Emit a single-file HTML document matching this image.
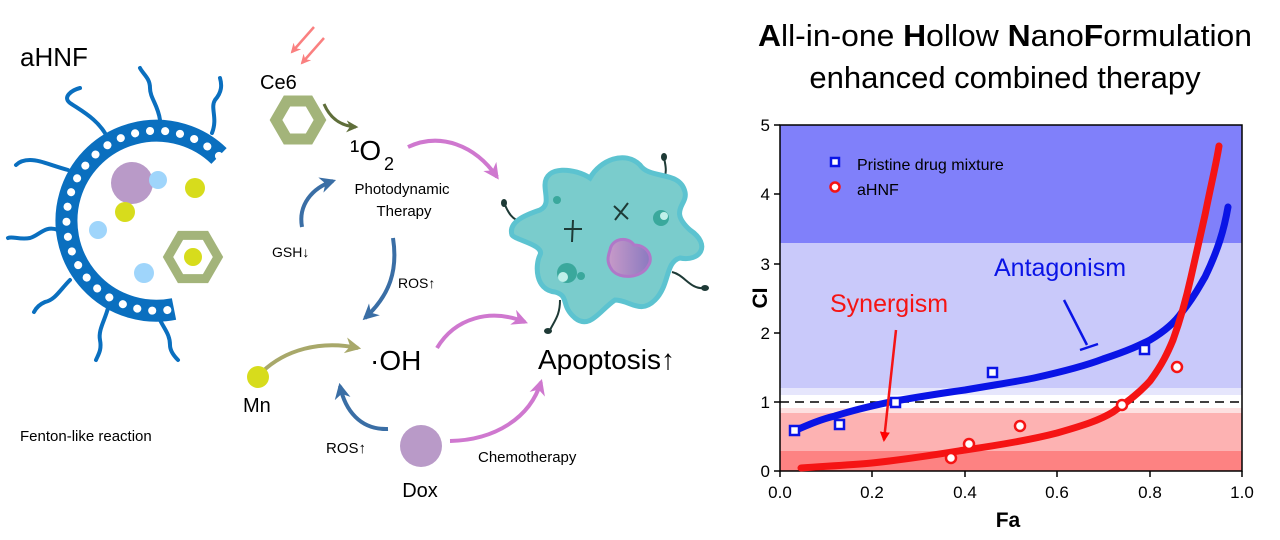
<!DOCTYPE html>
<html><head><meta charset="utf-8"><style>
html,body{margin:0;padding:0;background:#fff;}
svg{display:block;}
text{font-family:"Liberation Sans",Arial,sans-serif;}
</style></head><body>
<svg width="1280" height="540" viewBox="0 0 1280 540" xmlns="http://www.w3.org/2000/svg">
<defs>
<marker id="ab" viewBox="0 0 10 10" refX="8" refY="5" markerWidth="4" markerHeight="4" orient="auto"><path d="M0,0 L10,5 L0,10 L3,5z" fill="#3a6ea5"/></marker>
<marker id="am" viewBox="0 0 10 10" refX="8" refY="5" markerWidth="4" markerHeight="4" orient="auto"><path d="M0,0 L10,5 L0,10 L3,5z" fill="#cf78cf"/></marker>
<marker id="ao" viewBox="0 0 10 10" refX="8" refY="5" markerWidth="4" markerHeight="4" orient="auto"><path d="M0,0 L10,5 L0,10 L3,5z" fill="#a8a86a"/></marker>
<marker id="ag" viewBox="0 0 10 10" refX="8" refY="5" markerWidth="4" markerHeight="4" orient="auto"><path d="M0,0 L10,5 L0,10 L3,5z" fill="#5f6e3a"/></marker>
<marker id="ar" viewBox="0 0 10 10" refX="8" refY="5" markerWidth="4" markerHeight="4" orient="auto"><path d="M0,0 L10,5 L0,10 L3,5z" fill="#fa8080"/></marker>
<marker id="arr" viewBox="0 0 10 10" refX="8" refY="5" markerWidth="4" markerHeight="5" orient="auto"><path d="M0,0 L10,5 L0,10z" fill="#f00"/></marker>
<linearGradient id="nuc" x1="0" x2="1"><stop offset="0" stop-color="#c89ac8"/><stop offset="1" stop-color="#8a7ac0"/></linearGradient>
</defs>

<!-- aHNF nanoparticle -->
<text x="20" y="66" font-size="26">aHNF</text>
<g fill="none" stroke="#0a6fbf" stroke-width="4" stroke-linecap="round">
<path d="M108,139 C100,120 80,110 70,103 C62,97 72,90 80,88"/>
<path d="M160,120 C158,105 150,98 150,88 C150,78 143,74 140,68"/>
<path d="M212,133 C218,118 210,108 215,100 C222,92 222,85 220,78"/>
<path d="M68,170 C50,165 40,160 30,160 C22,160 18,163 16,165"/>
<path d="M58,230 C45,225 40,235 30,238 C20,240 12,236 8,238"/>
<path d="M70,280 C60,290 55,300 45,302 C38,305 35,310 34,312"/>
<path d="M108,308 C105,320 98,330 100,340 C102,350 98,355 96,360"/>
<path d="M160,320 C165,330 170,335 170,345 C170,352 176,358 178,360"/>
</g>
<path d="M219,156 A90,90 0 1 0 174,309" fill="none" stroke="#0a6fbf" stroke-width="22"/>
<path d="M219,156 A90,90 0 1 0 174,309" fill="none" stroke="#fff" stroke-width="8" stroke-dasharray="0.1 15" stroke-linecap="round"/>
<circle cx="132" cy="183" r="21" fill="#b99ac8"/>
<circle cx="158" cy="180" r="9" fill="#9fd5fb"/>
<circle cx="195" cy="188" r="10" fill="#d7dc1c"/>
<circle cx="125" cy="212" r="10" fill="#d7dc1c"/>
<circle cx="98" cy="230" r="9" fill="#9fd5fb"/>
<circle cx="144" cy="273" r="10" fill="#9fd5fb"/>
<polygon points="218,257 205.5,278.6 180.5,278.6 168,257 180.5,235.4 205.5,235.4" fill="none" stroke="#a3b47a" stroke-width="9"/>
<circle cx="193" cy="257" r="9" fill="#d7dc1c"/>

<!-- Ce6 -->
<line x1="314" y1="27" x2="292" y2="52" stroke="#fa8080" stroke-width="2.5" marker-end="url(#ar)"/>
<line x1="324" y1="38" x2="302" y2="63" stroke="#fa8080" stroke-width="2.5" marker-end="url(#ar)"/>
<text x="260" y="89" font-size="20">Ce6</text>
<polygon points="320,120 309,139 287,139 276,120 287,101 309,101" fill="none" stroke="#a3b47a" stroke-width="11"/>
<path d="M324,104 C330,118 340,126 356,127" fill="none" stroke="#5f6e3a" stroke-width="3" marker-end="url(#ag)"/>
<text x="350" y="160" font-size="28">¹O</text>
<text x="384" y="170" font-size="18">2</text>
<text x="402" y="194" font-size="15" text-anchor="middle">Photodynamic</text>
<text x="404" y="216" font-size="15" text-anchor="middle">Therapy</text>
<path d="M302,227 C298,205 312,188 333,181" fill="none" stroke="#3a6ea5" stroke-width="4" marker-end="url(#ab)"/>
<text x="272" y="257" font-size="14">GSH↓</text>
<path d="M393,238 C398,270 390,295 365,318" fill="none" stroke="#3a6ea5" stroke-width="4" marker-end="url(#ab)"/>
<text x="398" y="288" font-size="14">ROS↑</text>
<path d="M408,147 C440,132 475,145 497,177" fill="none" stroke="#cf78cf" stroke-width="4" marker-end="url(#am)"/>

<!-- Mn / OH -->
<path d="M262,372 C285,350 320,340 358,348" fill="none" stroke="#a8a86a" stroke-width="4" marker-end="url(#ao)"/>
<circle cx="258" cy="377" r="11" fill="#d7dc1c"/>
<text x="243" y="412" font-size="20">Mn</text>
<text x="20" y="441" font-size="15">Fenton-like reaction</text>
<text x="370" y="370" font-size="28">·OH</text>
<path d="M388,429 C360,430 345,410 340,386" fill="none" stroke="#3a6ea5" stroke-width="4" marker-end="url(#ab)"/>
<text x="326" y="453" font-size="15">ROS↑</text>
<circle cx="421" cy="446" r="21" fill="#b99ac8"/>
<text x="420" y="497" font-size="20" text-anchor="middle">Dox</text>
<text x="478" y="462" font-size="15">Chemotherapy</text>
<path d="M437,348 C455,318 490,308 525,322" fill="none" stroke="#cf78cf" stroke-width="4" marker-end="url(#am)"/>
<path d="M450,441 C495,440 530,418 541,382" fill="none" stroke="#cf78cf" stroke-width="4" marker-end="url(#am)"/>
<text x="538" y="369" font-size="28">Apoptosis↑</text>

<!-- Cell -->
<g fill="none" stroke="#1e3a36" stroke-width="2">
<path d="M522,222 C512,220 508,212 505,205"/>
<path d="M663,182 C668,170 665,165 664,157"/>
<path d="M672,272 C685,275 690,290 705,288"/>
<path d="M560,300 C560,315 555,320 550,330"/>
</g>
<g fill="#1e3a36"><ellipse cx="504" cy="203" rx="3" ry="4"/><ellipse cx="664" cy="157" rx="3" ry="4"/><ellipse cx="705" cy="288" rx="4" ry="3"/><ellipse cx="548" cy="331" rx="4" ry="3"/></g>
<path d="M545,185 C545,165 575,168 590,178 C600,160 625,150 640,165 C650,180 680,170 685,192 C688,205 668,210 690,230 C712,245 700,262 680,258 C665,262 670,285 655,300 C640,315 630,300 615,300 C600,310 590,330 575,318 C560,305 570,296 555,292 C535,290 535,265 540,255 C545,245 515,240 512,235 C508,222 525,215 540,210 C550,205 545,195 545,185Z" fill="#7acccc" stroke="#5cc3d0" stroke-width="5"/>
<path d="M564,229 L582,229 M573,220 L572,242" stroke="#1e3a36" stroke-width="2"/>
<path d="M614,206 L628,219 M628,203 L615,220" stroke="#1e3a36" stroke-width="2"/>
<circle cx="557" cy="200" r="4" fill="#3aa89c"/>
<circle cx="661" cy="218" r="8" fill="#3aa89c"/><circle cx="664" cy="216" r="4" fill="#bff0ea"/>
<circle cx="567" cy="273" r="10" fill="#3aa89c"/><circle cx="563" cy="277" r="5" fill="#bff0ea"/><circle cx="581" cy="276" r="4" fill="#3aa89c"/>
<path d="M610,250 C612,238 628,236 634,245 C648,245 654,258 648,266 C642,278 620,280 612,270 C606,262 608,256 610,250Z" fill="url(#nuc)" stroke="#b078c8" stroke-width="3"/>

<!-- Title -->
<text x="1005" y="46" font-size="31" text-anchor="middle" textLength="494" lengthAdjust="spacingAndGlyphs"><tspan font-weight="bold">A</tspan>ll-in-one <tspan font-weight="bold">H</tspan>ollow <tspan font-weight="bold">N</tspan>ano<tspan font-weight="bold">F</tspan>ormulation</text>
<text x="1005" y="88" font-size="31" text-anchor="middle">enhanced combined therapy</text>

<!-- Plot -->
<rect x="780" y="125" width="462" height="118" fill="#8080fa"/>
<rect x="780" y="243" width="462" height="145" fill="#c9c9fa"/>
<rect x="780" y="388" width="462" height="7" fill="#e6e6fc"/>
<rect x="780" y="408" width="462" height="5" fill="#fde0e0"/>
<rect x="780" y="413" width="462" height="38" fill="#fdb2b2"/>
<rect x="780" y="451" width="462" height="20" fill="#fd8282"/>
<line x1="780" y1="402" x2="1242" y2="402" stroke="#000" stroke-width="1.5" stroke-dasharray="9 6"/>
<rect x="780" y="125" width="462" height="346" fill="none" stroke="#000" stroke-width="1.5"/>
<g stroke="#000" stroke-width="1.5">
<line x1="774" y1="125" x2="780" y2="125"/><line x1="774" y1="194" x2="780" y2="194"/><line x1="774" y1="264" x2="780" y2="264"/><line x1="774" y1="333" x2="780" y2="333"/><line x1="774" y1="402" x2="780" y2="402"/><line x1="774" y1="471" x2="780" y2="471"/>
<line x1="780" y1="471" x2="780" y2="477"/><line x1="872" y1="471" x2="872" y2="477"/><line x1="965" y1="471" x2="965" y2="477"/><line x1="1057" y1="471" x2="1057" y2="477"/><line x1="1150" y1="471" x2="1150" y2="477"/><line x1="1242" y1="471" x2="1242" y2="477"/>
</g>
<g font-size="17" text-anchor="end">
<text x="770" y="131">5</text><text x="770" y="200">4</text><text x="770" y="270">3</text><text x="770" y="339">2</text><text x="770" y="408">1</text><text x="770" y="477">0</text>
</g>
<g font-size="17" text-anchor="middle">
<text x="780" y="498">0.0</text><text x="872" y="498">0.2</text><text x="965" y="498">0.4</text><text x="1057" y="498">0.6</text><text x="1150" y="498">0.8</text><text x="1242" y="498">1.0</text>
</g>
<text x="1008" y="527" font-size="21" font-weight="bold" text-anchor="middle">Fa</text>
<text transform="translate(767,298) rotate(-90)" font-size="21" font-weight="bold" text-anchor="middle">CI</text>

<path d="M794,431 C810,424 822,419 835,416 C860,408 880,404 895,401 C930,395 950,392 965,390 C1000,384 1020,381 1034,378 C1070,370 1090,364 1103,359 C1130,350 1140,345 1150,340 C1170,328 1178,318 1182,312 C1195,296 1200,285 1205,277 C1218,250 1224,230 1228,207" fill="none" stroke="#0a14e6" stroke-width="7" stroke-linecap="round"/>
<path d="M801,468 C830,466 850,465 872,463 C910,459 940,454 965,450 C1000,445 1030,440 1057,433 C1085,425 1100,420 1113,412 C1130,400 1140,392 1150,381 C1162,365 1168,352 1173,340 C1182,315 1187,295 1191,277 C1197,250 1201,232 1205,215 C1212,180 1216,165 1219,146" fill="none" stroke="#f51414" stroke-width="7" stroke-linecap="round"/>

<g fill="#fff" stroke="#0a14e6" stroke-width="2.5">
<rect x="790" y="426" width="9" height="9"/><rect x="835" y="420" width="9" height="9"/><rect x="891" y="398" width="9" height="9"/><rect x="988" y="368" width="9" height="9"/><rect x="1140" y="345" width="9" height="9"/>
</g>
<g fill="#fff" stroke="#f51414" stroke-width="2.5">
<circle cx="951" cy="458" r="5"/><circle cx="969" cy="444" r="5"/><circle cx="1020" cy="426" r="5"/><circle cx="1122" cy="405" r="5"/><circle cx="1177" cy="367" r="5"/>
</g>

<rect x="831" y="158" width="8" height="8" fill="#fff" stroke="#0a14e6" stroke-width="2.5"/>
<text x="857" y="170" font-size="16">Pristine drug mixture</text>
<circle cx="835" cy="187" r="4.5" fill="#fff" stroke="#f51414" stroke-width="2.5"/>
<text x="857" y="195" font-size="16">aHNF</text>

<text x="994" y="276" font-size="25" fill="#0a14e6">Antagonism</text>
<line x1="1064" y1="300" x2="1087" y2="345" stroke="#0a14e6" stroke-width="2.5"/>
<line x1="1080" y1="350" x2="1098" y2="344" stroke="#0a14e6" stroke-width="2.5"/>
<text x="830" y="312" font-size="25" fill="#f51414">Synergism</text>
<line x1="896" y1="330" x2="884" y2="440" stroke="#f51414" stroke-width="2.5" marker-end="url(#arr)"/>
</svg>
</body></html>
